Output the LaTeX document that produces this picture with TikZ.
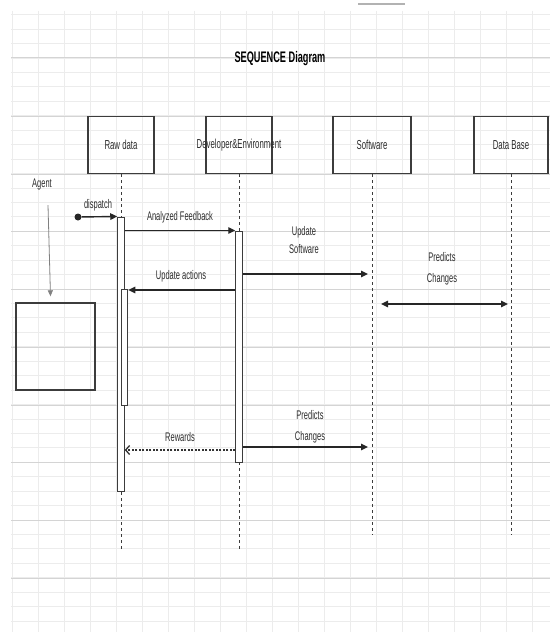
\documentclass[tikz,border=0pt]{standalone}
\usepackage{fontspec}
\newfontfamily\diafont{Liberation Sans}[FakeStretch=0.6]
\usetikzlibrary{arrows.meta, calc}
\definecolor{gridminor}{RGB}{236,236,236}
\definecolor{gridmajor}{RGB}{212,212,212}
\definecolor{linegray}{RGB}{60,60,60}
\definecolor{textgray}{RGB}{45,45,45}

\tikzset{
  actor/.style={draw=linegray, line width=1.4pt, minimum height=57pt, inner sep=0pt,
    font=\diafont\fontsize{13}{15}\selectfont, text=textgray},
  lifeline/.style={draw=linegray, line width=0.9pt, dash pattern=on 3pt off 3pt},
  actbar/.style={draw=linegray, fill=white, line width=1pt, minimum width=6.5pt, inner sep=0pt},
  msg/.style={draw=black!85, line width=1.4pt, -{Triangle[length=7pt,width=6.5pt]}},
  reply/.style={draw=black!80, line width=1.3pt, dash pattern=on 2pt off 1.5pt,
    -{Straight Barb[length=4pt,width=9pt]}},
  msglabel/.style={font=\diafont\fontsize{12.5}{21}\selectfont, text=textgray, align=center},
}

\begin{document}
\begin{tikzpicture}[x=1pt, y=-1pt]
    \fill[white] (0,0) rectangle (550,634);
    \useasboundingbox (0,0) rectangle (550,634);

    % Background grid
    \foreach \gx in {12,38,...,550}
        \draw[gridminor, line width=0.8pt] (\gx,11) -- (\gx,632);
    \foreach \k in {0,...,42}
        \draw[gridminor, line width=0.8pt] (11,{14.6875+14.4375*\k}) -- (550,{14.6875+14.4375*\k});
    \foreach \gy in {58,116,174,231,289,347,405,462,520,578}
        \draw[gridmajor, line width=1pt] (11,\gy) -- (550,\gy);
    \draw[gray!60, line width=1.5pt] (358,4) -- (405,4);

    % Title
    \node[font=\diafont\bfseries\fontsize{15.3}{17}\selectfont] (title) at (280,59) {SEQUENCE Diagram};

    % Participants
    \node[actor, minimum width=66pt] (raw) at (121,145) {Raw data};
    \node[actor, minimum width=66pt] (dev) at (239,145) {\makebox[0pt]{Developer\&Environment}};
    \node[actor, minimum width=78pt] (soft) at (372,145) {Software};
    \node[actor, minimum width=74pt] (db) at (511,145) {Data Base};

    % Lifelines
    \coordinate (rawend) at (121,549);
    \coordinate (devend) at (239,549);
    \coordinate (softend) at (372,535);
    \coordinate (dbend) at (511,535);
    \draw[lifeline] (raw.south) -- (rawend);
    \draw[lifeline] (dev.south) -- (devend);
    \draw[lifeline] (soft.south) -- (softend);
    \draw[lifeline] (db.south) -- (dbend);

    % Activation bars
    \node[actbar, minimum height=274pt] (rawbar) at (121,354) {};
    \node[actbar, minimum height=116pt] (rawbar2) at (124.5,347) {};
    \node[actbar, minimum height=231pt] (devbar) at (239,346.5) {};

    % Agent
    \node[msglabel] (agent) at (42,184) {Agent};
    \node[draw=linegray, line width=1.4pt, minimum width=79pt, minimum height=87pt] (agbox) at (55.5,346.5) {};
    \draw[gray, line width=0.8pt, -{Triangle[length=6pt,width=5pt]}]
        ([xshift=6pt,yshift=-12pt]agent.south) -- ([xshift=-5pt,yshift=6pt]agbox.north);

    % Message levels
    \coordinate (m3) at (0,274);
    \coordinate (m4) at (0,290);
    \coordinate (m5) at (0,304);
    \coordinate (m6) at (0,450);
    \coordinate (m7) at (0,447);

    % Messages
    \node[circle, fill=black!85, inner sep=0pt, minimum size=7pt] (start) at (78,217) {};
    \draw[msg] (start) -- (rawbar.north west);
    \node[msglabel] (dispatch) at (98,205) {dispatch};

    \draw[msg] (rawbar.east |- devbar.north) -- (devbar.north west);
    \node[msglabel] (feedback) at (180,217) {Analyzed Feedback};

    \draw[msg, shorten >=4pt] (devbar.east |- m3) -- (softend |- m3);
    \node[msglabel, font=\diafont\fontsize{12.5}{18}\selectfont] (updsoft) at (304,240) {Update\\Software};

    \draw[msg] (devbar.west |- m4) -- (rawbar2.east |- m4);
    \node[msglabel] (updact) at (181,276) {Update actions};

    \draw[msg, {Triangle[length=7pt,width=6.5pt]}-{Triangle[length=7pt,width=6.5pt]}, shorten <=9pt, shorten >=3pt]
        (softend |- m5) -- (dbend |- m5);
    \node[msglabel] (predict1) at (442,268.5) {Predicts\\Changes};

    \draw[reply] (devbar.west |- m6) -- (rawbar.east |- m6);
    \node[msglabel] (rewards) at (180,437) {Rewards};

    \draw[msg, shorten >=4pt] (devbar.east |- m7) -- (softend |- m7);
    \node[msglabel] (predict2) at (310,426.5) {Predicts\\Changes};
\end{tikzpicture}
\end{document}
